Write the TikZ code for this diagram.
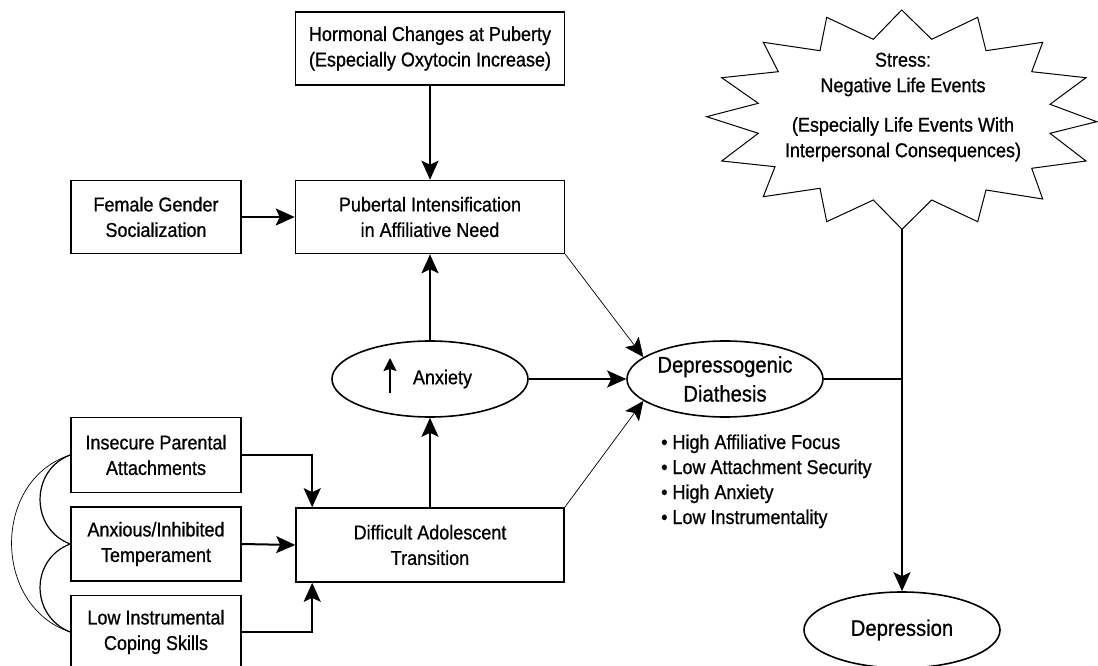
\documentclass[tikz,border=0pt]{standalone}
\usepackage{fontspec}
\setmainfont{Liberation Sans}[FakeStretch=0.9,FakeBold=0.8]
\usetikzlibrary{arrows.meta,shapes.geometric}
\begin{document}
\begin{tikzpicture}[x=1pt,y=-1pt,
  txt/.style={font=\fontsize{20}{25.5}\selectfont},
  bigtxt/.style={font=\fontsize{22.5}{29}\selectfont},
  box/.style={draw, line width=1.6pt, rectangle, inner sep=0pt, align=center, txt},
  oval/.style={draw, line width=1.6pt, ellipse, inner sep=0pt, minimum width=196pt, minimum height=76pt, align=center},
  arr/.style={line width=2pt, -{Stealth[length=19pt,width=17pt,inset=4pt]}},
  thinarr/.style={line width=0.7pt, -{Stealth[length=19pt,width=17pt,inset=4pt]}},
  link/.style={line width=1.6pt},
  bul/.style={inner sep=0pt, anchor=base west, txt}]
\fill[white] (0,0) rectangle (1098,666);
\useasboundingbox (0,0) rectangle (1098,666);

% boxes
\node[box, minimum width=269pt, minimum height=73pt] (horm) at (430,48.5) {Hormonal Changes at Puberty\\(Especially Oxytocin Increase)};
\node[box, minimum width=269pt, minimum height=73pt] (pub) at (430,217) {Pubertal Intensification\\in Affiliative Need};
\node[box, minimum width=170pt, minimum height=73pt] (fem) at (156,217) {Female Gender\\Socialization};
\node[box, minimum width=170pt, minimum height=75pt] (ins) at (156,455) {Insecure Parental\\Attachments};
\node[box, minimum width=170pt, minimum height=74pt] (axt) at (156,544) {Anxious/Inhibited\\Temperament};
\node[box, minimum width=170pt, minimum height=73pt] (low) at (156,632) {Low Instrumental\\Coping Skills};
\node[box, minimum width=268pt, minimum height=74pt] (diff) at (430,545) {Difficult Adolescent\\Transition};

% ellipses
\node[oval, txt] (anx) at (430,379) {\hspace*{25pt}Anxiety};
\draw[line width=1.7pt, -{Stealth[length=13pt,width=13pt,inset=2pt]}] ([xshift=-40pt,yshift=-14pt]anx.center) -- ([xshift=-40pt,yshift=21pt]anx.center);
\node[oval, bigtxt] (dep) at (725,379) {Depressogenic\\Diathesis};
\node[oval, bigtxt] (depr) at (902,630) {Depression};

% bullets
\node[bul] (b1) at (661,449) {\textbullet\ High Affiliative Focus};
\node[bul] (b2) at (661,474) {\textbullet\ Low Attachment Security};
\node[bul] (b3) at (661,499) {\textbullet\ High Anxiety};
\node[bul] (b4) at (661,524) {\textbullet\ Low Instrumentality};

% stress starburst
\draw[line width=1pt] (901.7,10) -- (931.7,39.3) -- (977.7,17.3) -- (986,50.7) -- (1042.7,42.3) -- (1031.7,71.7) -- (1086,77.7) -- (1050,104.3) -- (1096.7,121.7) -- (1050,133.3) -- (1086,161) -- (1031.7,168.3) -- (1042.7,199) -- (986,190) -- (977.7,221.7) -- (931.7,200) -- (902,229.3) -- (873.3,200) -- (826.7,221.7) -- (820,188.3) -- (763.3,196.7) -- (775,166.7) -- (721.7,161) -- (758.3,133.3) -- (706.7,116.7) -- (758.3,103.3) -- (721.7,77.7) -- (778.3,71.7) -- (763.3,42.3) -- (820,50.7) -- (826.7,17.3) -- (873.3,39.3) -- cycle;
\node[txt, align=center, inner sep=0pt] (stress) at (903,107) {Stress:\\Negative Life Events\\[14pt](Especially Life Events With\\Interpersonal Consequences)};
\coordinate (sbot) at (902,229.3);
\coordinate (junc) at (902,379);

% connectors
\draw[arr] (horm.south) -- (pub.north);
\draw[arr] (fem.east) -- (pub.west);
\draw[arr] (anx.north) -- (pub.south);
\draw[arr] (diff.north) -- (anx.south);
\draw[arr] (anx.east) -- (dep.west);
\draw[thinarr] (pub.south east) -- (dep.165);
\draw[thinarr] (diff.north east) -- (dep.195);
\draw[link] (dep.east) -- (junc);
\draw[arr, line width=1.6pt] (sbot) -- (depr.north);
\draw[arr] (ins.east) -| ([xshift=17pt]diff.north west);
\draw[arr] (axt.east) -- (diff.west);
\draw[arr] (low.east) -| ([xshift=17pt]diff.south west);

% correlation arcs
\draw[line width=1.2pt] (ins.west) .. controls (30,470) and (30,529) .. (axt.west);
\draw[line width=1.2pt] (axt.west) .. controls (30,559) and (30,616) .. (low.west);
\draw[line width=0.7pt] (ins.west) .. controls (-8,480) and (-8,606) .. (low.west);
\end{tikzpicture}
\end{document}
